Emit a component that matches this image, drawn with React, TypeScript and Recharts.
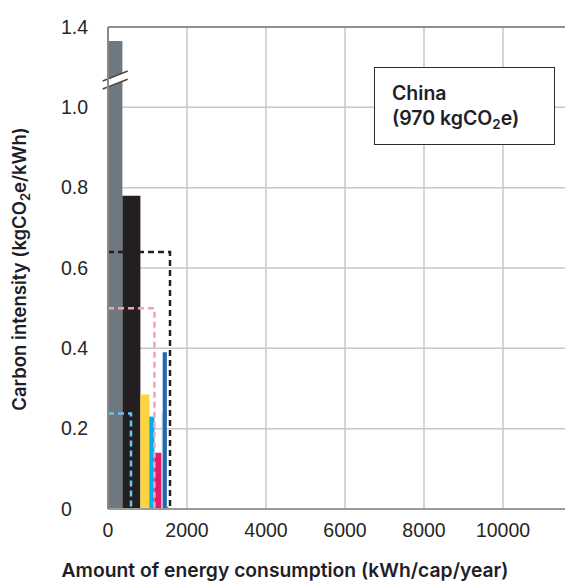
import React from 'react';
import {
  ComposedChart,
  XAxis,
  YAxis,
  CartesianGrid,
  ReferenceArea,
  ReferenceLine,
  Line,
} from 'recharts';

// blocks along the energy axis (kWh/cap/year) and their carbon intensity
const blockStart = [0, 365, 820, 1045, 1175, 1355, 1385, 1490];
const blockEnd = [365, 820, 1045, 1175, 1355, 1385, 1490, 1525];
const blockIntensity = [1.33, 0.78, 0.285, 0.23, 0.14, 0.24, 0.39, 0.006];
const blockColors = ['#6e7880', '#231f20', '#ffd23f', '#00aeef', '#e8196b', '#b9e2da', '#2464b0', '#3aaa35'];

// dashed outlines
const outlineEnergy = [582, 1175, 1570];
const outlineIntensity = [0.238, 0.5, 0.64];
const outlineColors = ['#6cc5ea', '#f6a2b4', '#231f20'];

const xTicks = [0, 2000, 4000, 6000, 8000, 10000];
const yTicks = [0, 0.2, 0.4, 0.6, 0.8, 1.0, 1.4];

const FONT = '"Liberation Sans", Arial, Helvetica, sans-serif';
const TITLE_FONT = 'Inter, "Liberation Sans", Arial, sans-serif';

// broken axis: above 1.0 the scale is squeezed by half
const toAxis = (v: number) => (v <= 1 ? v : 1 + (v - 1) / 2);
const fromAxis = (v: number) => (v <= 1 ? v : 1 + (v - 1) * 2);

const XTick = (props: any) => {
  const { x, y, payload } = props;
  return (
    <text x={x} y={y + 21} dy="0.35em" textAnchor="middle" fontSize={19.5} fontFamily={FONT} fill="#262626">
      {payload.value}
    </text>
  );
};

const YTick = (props: any) => {
  const { x, y, payload } = props;
  const v = fromAxis(payload.value);
  return (
    <text x={x - 47} y={y} dy="0.35em" textAnchor="start" fontSize={19.5} fontFamily={FONT} fill="#262626">
      {v === 0 ? '0' : v.toFixed(1)}
    </text>
  );
};

const XTitle = () => (
  <text x={277} y={569} textAnchor="middle" fontSize={19.3} fontWeight={600} fontFamily={TITLE_FONT} fill="#1e1e28">
    Amount of energy consumption (kWh/cap/year)
  </text>
);

const YTitle = () => (
  <text
    transform="translate(12, 261) rotate(-90)"
    textAnchor="middle"
    dy="0.35em"
    fontSize={18.5}
    fontWeight={600}
    fontFamily={TITLE_FONT}
    fill="#1e1e28"
  >
    Carbon intensity (kgCO<tspan fontSize={13} dy={4}>2</tspan>
    <tspan dy={-4}>e/kWh)</tspan>
  </text>
);

const App: React.FC = () => {
  const outlines = outlineEnergy.map((e, i) => [
    { x: 0, y: outlineIntensity[i] },
    { x: e, y: outlineIntensity[i] },
    { x: e, y: 0 },
  ]);

  return (
    <div style={{ position: 'relative', width: 565, height: 573, overflow: 'hidden', background: '#fff' }}>
      <ComposedChart width={574} height={573} margin={{ top: 19, right: 0, bottom: 0, left: 0 }}>
        <CartesianGrid stroke="#c8c8c8" strokeWidth={1.5} />
        <XAxis
          type="number"
          dataKey="x"
          domain={[0, 12000]}
          ticks={xTicks}
          allowDataOverflow
          height={72}
          tickSize={0}
          tickMargin={0}
          tickLine={false}
          stroke="#9a9a9a"
          strokeWidth={2}
          tick={<XTick />}
          label={<XTitle />}
        />
        <YAxis
          type="number"
          dataKey="y"
          domain={[0, toAxis(1.4)]}
          ticks={yTicks.map(toAxis)}
          allowDataOverflow
          width={100}
          tickSize={0}
          tickMargin={0}
          tickLine={false}
          stroke="#8a8a8a"
          strokeWidth={2}
          tick={<YTick />}
          label={<YTitle />}
        />
        <ReferenceLine y={toAxis(1.4)} stroke="#8f8f8f" strokeWidth={2} />
        {blockStart.map((s, i) => (
          <ReferenceArea
            key={i}
            x1={s}
            x2={blockEnd[i]}
            y1={0}
            y2={toAxis(blockIntensity[i])}
            fill={blockColors[i]}
            fillOpacity={1}
            stroke="none"
          />
        ))}
        <ReferenceLine
          segment={[{ x: -134, y: 1.0557 }, { x: 499, y: 1.0798 }]}
          stroke="#fff"
          strokeWidth={8}
          ifOverflow="visible"
        />
        <ReferenceLine
          segment={[{ x: -134, y: 1.0657 }, { x: 499, y: 1.0906 }]}
          stroke="#4a4a4a"
          strokeWidth={1.5}
          ifOverflow="visible"
        />
        <ReferenceLine
          segment={[{ x: -134, y: 1.0458 }, { x: 499, y: 1.07 }]}
          stroke="#4a4a4a"
          strokeWidth={1.5}
          ifOverflow="visible"
        />
        {outlines.map((d, i) => (
          <Line
            key={i}
            data={d}
            dataKey="y"
            type="linear"
            stroke={outlineColors[i]}
            strokeWidth={2.5}
            strokeDasharray="6 4"
            dot={false}
            activeDot={false}
            isAnimationActive={false}
          />
        ))}
      </ComposedChart>
      <div
        style={{
          position: 'absolute',
          left: 366,
          top: 59,
          width: 181,
          height: 78,
          boxSizing: 'border-box',
          border: '1.5px solid #2b2b2b',
          background: '#fff',
          padding: '13px 0 0 17px',
          fontFamily: TITLE_FONT,
          fontWeight: 600,
          fontSize: 19.5,
          lineHeight: '25px',
          color: '#1e1e28',
        }}
      >
        <div>China</div>
        <div>
          (970 kgCO<sub style={{ fontSize: 13.5, verticalAlign: 'baseline', position: 'relative', top: 4 }}>2</sub>e)
        </div>
      </div>
    </div>
  );
};

export default App;
